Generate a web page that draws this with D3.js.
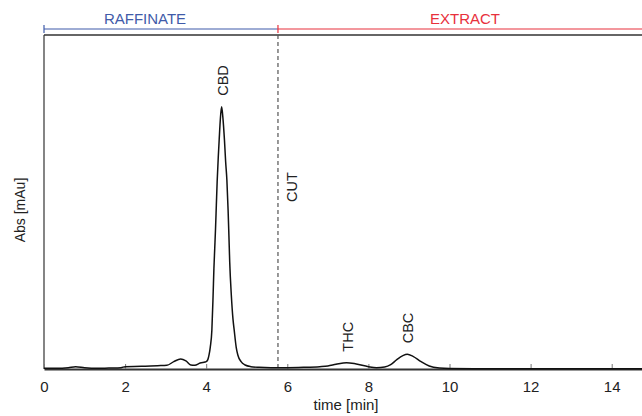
<!DOCTYPE html>
<html>
<head>
<meta charset="utf-8">
<script src="https://cdn.jsdelivr.net/npm/d3@7"></script>
<style>
    body { margin: 0; background: #fff; }
    text { font-family: "Liberation Sans", Arial, sans-serif; }
</style>
</head>
<body>
<script>
// chromatogram (time in min, absorbance in % of full scale)
var times = [0, 0.3, 0.6, 0.78, 1.0, 1.3, 1.6, 1.9, 2.0, 2.4, 2.8, 3.03, 3.2, 3.37, 3.5, 3.62, 3.72, 3.85, 3.97,
    4.0, 4.04, 4.07, 4.10, 4.14, 4.17, 4.19, 4.21, 4.23, 4.25, 4.27, 4.30, 4.32, 4.35, 4.38, 4.41, 4.45, 4.48,
    4.51, 4.54, 4.56, 4.58, 4.62, 4.66, 4.69, 4.74, 4.78, 4.86, 4.96, 5.1, 5.3, 5.6, 6.0, 6.4, 6.8, 7.0, 7.2,
    7.46, 7.7, 8.0, 8.2, 8.4, 8.55, 8.7, 8.85, 8.96, 9.1, 9.3, 9.5, 9.75, 10.0, 11, 12, 13, 14, 15];
var absValues = [0.2, 0.2, 0.4, 0.7, 0.4, 0.2, 0.3, 0.4, 0.7, 0.8, 1.0, 1.1, 2.2, 3.0, 2.4, 1.2, 1.1, 1.8, 2.1,
    2.2, 2.8, 4.2, 6.5, 11.7, 22, 30, 36, 42, 49, 56, 64, 68.6, 75, 78.5, 75.5, 68.6, 62,
    56.6, 47.6, 40, 32, 22, 15, 11.7, 6.5, 4.2, 2.2, 1.2, 0.7, 0.5, 0.4, 0.4, 0.5, 0.7, 0.9, 1.4,
    1.9, 1.5, 0.7, 0.4, 0.6, 1.3, 2.8, 4.0, 4.4, 3.8, 2.2, 0.9, 0.3, 0.15, 0.1, 0.1, 0.1, 0.1, 0.1];

var peakNames = ['CBD', 'THC', 'CBC'];
var peakTimes = [4.38, 7.46, 8.96];
var peakHeights = [78.5, 1.9, 4.4];

var cutTime = 5.77;
var xTicks = [0, 2, 4, 6, 8, 10, 12, 14];

window.onload = function() {
    var w = 642, h = 416;
    var left = 44, top = 35, bottom = 369;

    var svg = d3.select('body')
        .append('svg')
        .attr('width', w)
        .attr('height', h);

    var x = d3.scaleLinear()
        .domain([0, 15])
        .range([left, left + 15 * 40.55]);
    var y = d3.scaleLinear()
        .domain([0, 100])
        .range([bottom, top]);

    // top fraction band
    var blue = '#3f5ba9', red = '#e8303c';
    svg.append('line')
        .attr('x1', x(0)).attr('x2', x(cutTime))
        .attr('y1', 29).attr('y2', 29)
        .style('stroke', blue).style('stroke-width', 1.2);
    svg.append('line')
        .attr('x1', x(cutTime)).attr('x2', w)
        .attr('y1', 29).attr('y2', 29)
        .style('stroke', red).style('stroke-width', 1.2);
    svg.append('line')
        .attr('x1', x(0)).attr('x2', x(0))
        .attr('y1', 25).attr('y2', 33)
        .style('stroke', blue).style('stroke-width', 1.2);
    svg.append('line')
        .attr('x1', x(cutTime)).attr('x2', x(cutTime))
        .attr('y1', 25).attr('y2', 33)
        .style('stroke', red).style('stroke-width', 1.2);
    svg.append('text')
        .attr('x', 145).attr('y', 24)
        .attr('text-anchor', 'middle')
        .style('font-size', '15px')
        .style('fill', blue)
        .text('RAFFINATE');
    svg.append('text')
        .attr('x', 465).attr('y', 24)
        .attr('text-anchor', 'middle')
        .style('font-size', '15px')
        .style('fill', red)
        .text('EXTRACT');

    // frame
    svg.append('line')
        .attr('x1', left).attr('x2', w)
        .attr('y1', top).attr('y2', top)
        .style('stroke', '#333').style('stroke-width', 1.5);
    svg.append('line')
        .attr('x1', left).attr('x2', left)
        .attr('y1', top).attr('y2', bottom)
        .style('stroke', '#333').style('stroke-width', 1.2);

    // cut line
    svg.append('line')
        .attr('x1', x(cutTime)).attr('x2', x(cutTime))
        .attr('y1', top).attr('y2', bottom)
        .style('stroke', '#555')
        .style('stroke-width', 1.2)
        .style('stroke-dasharray', '4,3');

    // x axis
    var xAxis = d3.axisBottom(x)
        .tickValues(xTicks)
        .tickSizeInner(-5)
        .tickSizeOuter(0)
        .tickPadding(12);
    var axis = svg.append('g')
        .attr('class', 'axis')
        .attr('transform', 'translate(0,' + bottom + ')')
        .call(xAxis);
    axis.select('.domain')
        .style('stroke', '#333').style('stroke-width', 2);
    axis.selectAll('.tick line').style('stroke', '#777');
    axis.selectAll('.tick text')
        .style('font-size', '15px')
        .style('font-family', '"Liberation Sans", Arial, sans-serif')
        .style('fill', '#222');

    svg.append('text')
        .attr('x', 346).attr('y', 410)
        .attr('text-anchor', 'middle')
        .style('font-size', '15px')
        .style('fill', '#222')
        .text('time [min]');
    svg.append('text')
        .attr('transform', 'translate(25,210) rotate(-90)')
        .attr('text-anchor', 'middle')
        .style('font-size', '14px')
        .style('fill', '#222')
        .text('Abs [mAu]');

    // signal
    var points = times.map(function(t, i) {
        return [t, absValues[i]];
    });
    var line = d3.line()
        .x(function(d) { return x(d[0]); })
        .y(function(d) { return y(d[1]); })
        .curve(d3.curveMonotoneX);
    svg.append('path')
        .datum(points)
        .attr('d', line)
        .style('fill', 'none')
        .style('stroke', '#111')
        .style('stroke-width', 1.5);

    // peak labels
    svg.selectAll('.peak')
        .data(peakNames)
        .enter()
        .append('text')
        .attr('class', 'peak')
        .attr('transform', function(d, i) {
            return 'translate(' + (x(peakTimes[i]) + 6) + ',' + (y(peakHeights[i]) - 11) + ') rotate(-90)';
        })
        .style('font-size', '14.5px')
        .style('fill', '#222')
        .text(function(d) { return d; });

    svg.append('text')
        .attr('transform', 'translate(' + (x(cutTime) + 19) + ',202) rotate(-90)')
        .style('font-size', '14.5px')
        .style('fill', '#222')
        .text('CUT');
};
</script>
</body>
</html>
